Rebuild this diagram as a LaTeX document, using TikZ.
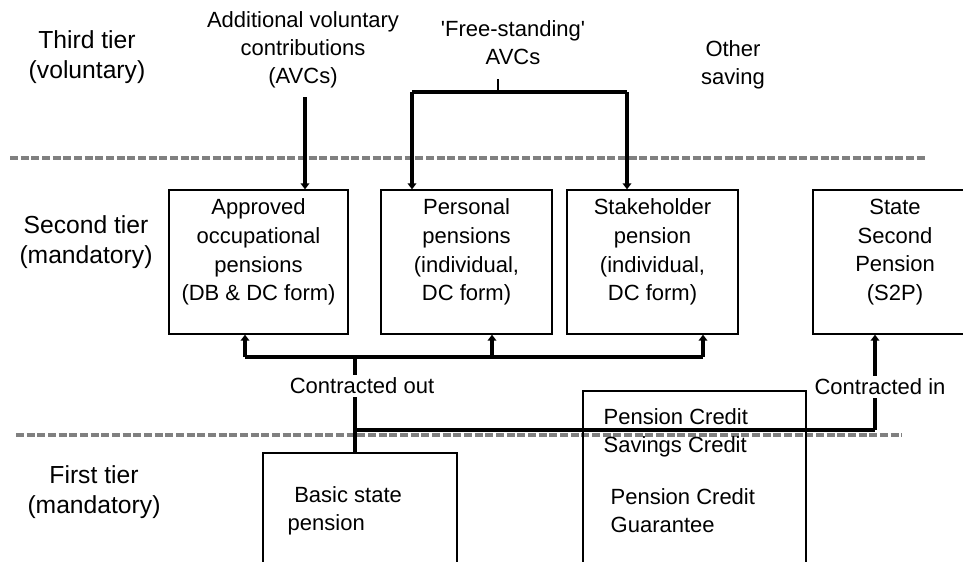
\documentclass[tikz,border=0pt]{standalone}
\usepackage{fontspec}
\setmainfont{Liberation Sans}
\usetikzlibrary{arrows.meta}

\tikzset{
  tier/.style={align=center,font=\fontsize{18.5}{22.5}\selectfont},
  note/.style={align=center,font=\fontsize{16.5}{21}\selectfont},
  pbox/.style={draw,line width=1pt,align=center,inner sep=0pt,
    font=\fontsize{16.5}{21.4}\selectfont,minimum height=144*0.75pt},
  flow/.style={line width=2.4pt},
  arr/.style={flow,-{Triangle[width=6.5pt,length=4.5pt]}},
  tierline/.style={draw=black!50,line width=2.4pt,dash pattern=on 6pt off 2pt},
  gap/.style={note,fill=white,inner sep=2pt}
}
% pushes the box text up to its top
\newcommand{\boxend}{\\[-9.5pt]\strut}

\begin{document}
\begin{tikzpicture}[x=0.75pt,y=-0.75pt]
\useasboundingbox (0,0) rectangle (963,561);
\clip (0,0) rectangle (963,561);

% tier borders
\draw[tierline] (10,158) -- (927,158);
\draw[tierline] (16,435) -- (902,435);

% tier labels
\node[tier] (third) at (87,57) {Third tier\\(voluntary)};
\node[tier] (second) at (86,242) {Second tier\\(mandatory)};
\node[tier] (first) at (94,492) {First tier\\(mandatory)};

% third tier
\node[note] (avc) at (303,50) {Additional voluntary\\contributions\\(AVCs)};
\node[note] (fsavc) at (513,43) {\textquotesingle Free-standing\textquotesingle\\AVCs};
\node[note] (other) at (733,65) {Other\\saving};

% second tier
\node[pbox,minimum width=179*0.75pt] (occ) at (258.5,262)
  {Approved\\occupational\\pensions\\(DB \& DC form)\boxend};
\node[pbox,minimum width=171*0.75pt] (pers) at (466.5,262)
  {Personal\\pensions\\(individual,\\DC form)\boxend};
\node[pbox,minimum width=171*0.75pt] (stake) at (652.5,262)
  {Stakeholder\\pension\\(individual,\\DC form)\boxend};
\node[pbox,minimum width=164*0.75pt] (s2p) at (895,262)
  {State\\Second\\Pension\\(S2P)\boxend};

% first tier (boxes run off the bottom)
\node[pbox,minimum width=194*0.75pt,minimum height=167*0.75pt] (basic) at (360,536.5) {};
\node[note,align=left,anchor=west] (basictxt) at (283,511) {\hspace{0.3em}Basic state\\pension};
\node[pbox,minimum width=223*0.75pt,minimum height=229*0.75pt] (credit) at (694.5,505.5) {};
\node[note,align=left,anchor=west] (savtxt) at (599,432.5) {Pension Credit\\Savings Credit};
\node[note,align=left,anchor=west] (guartxt) at (606,511) {Pension Credit\\Guarantee};

% AVCs into occupational schemes
\draw[arr] (305,97) -- (305,0 |- occ.north);

% free-standing AVCs
\coordinate (fsL) at (412,92);
\coordinate (fsR) at (627,92);
\draw[line width=2pt] (498,79) -- (498,92);
\draw[flow] (fsL) -- (fsR);
\draw[arr] (fsL) -- (fsL |- pers.north);
\draw[arr] (fsR) -- (fsR |- stake.north);

% contracted out
\coordinate (busL) at (245,357);
\coordinate (busM) at (355,357);
\coordinate (busR) at (703,357);
\coordinate (split) at (355,430);
\coordinate (inR) at (875,430);
\draw[flow] (busL) -- (busR);
\draw[arr] (busL) -- (busL |- occ.south);
\draw[arr] (492,357) -- (492,0 |- pers.south);
\draw[arr] (busR) -- (busR |- stake.south);
\draw[flow] (busM) -- (busM |- basic.north);
\node[gap] (out) at (362,386) {Contracted out};

% contracted in
\draw[flow] (split) -- (inR);
\draw[arr] (inR) -- (inR |- s2p.south);
\node[gap] (in) at (880,387) {Contracted in};
\end{tikzpicture}
\end{document}
